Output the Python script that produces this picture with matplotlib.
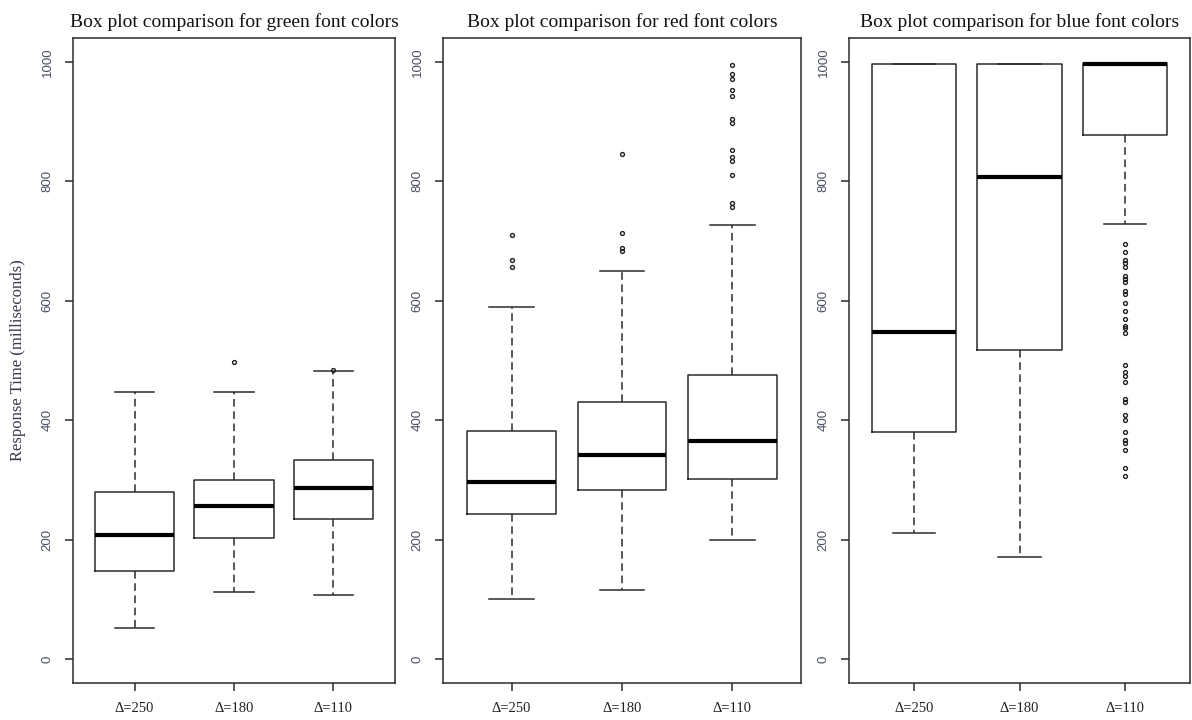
import numpy as np
import matplotlib
matplotlib.use("Agg")
import matplotlib.pyplot as plt

# rotulos do eixo x (os mesmos nos tres paineis)
rotulos = ['Δ=250', 'Δ=180', 'Δ=110']

# painel verde
verde_q1 = [147, 202, 235]
verde_med = [208, 257, 287]
verde_q3 = [280, 300, 333]
verde_wlo = [52, 113, 107]
verde_whi = [448, 447, 482]
verde_out = [[], [497], [484]]

# painel vermelho
vermelho_q1 = [243, 283, 301]
vermelho_med = [297, 342, 366]
vermelho_q3 = [382, 431, 476]
vermelho_wlo = [100, 116, 200]
vermelho_whi = [590, 650, 727]
vermelho_out = [[657, 668, 710],
                [683, 688, 713, 845],
                [757, 763, 810, 834, 840, 852, 898, 905, 943, 953, 972, 980, 995]]

# painel azul
azul_q1 = [381, 518, 877]
azul_med = [548, 808, 996]
azul_q3 = [997, 997, 998]
azul_wlo = [211, 171, 728]
azul_whi = [997, 997, 998]
azul_out = [[], [],
            [306, 320, 350, 362, 367, 381, 400, 408, 431, 435, 464, 474, 481, 493,
             546, 555, 558, 569, 583, 597, 611, 617, 632, 636, 642, 656, 664, 669,
             682, 695]]

titulos = ['Box plot comparison for green font colors',
           'Box plot comparison for red font colors',
           'Box plot comparison for blue font colors']

paineis = [
    (verde_q1, verde_med, verde_q3, verde_wlo, verde_whi, verde_out),
    (vermelho_q1, vermelho_med, vermelho_q3, vermelho_wlo, vermelho_whi, vermelho_out),
    (azul_q1, azul_med, azul_q3, azul_wlo, azul_whi, azul_out),
]

W, H = 1192, 720
# posicoes dos paineis em pixels (esquerda, direita)
caixas_px = [(73, 395), (443, 801), (849, 1190)]
topo, base = 38, 683

cor_linha = '#2b2b2b'
serif = ['Liberation Serif', 'DejaVu Serif']


def monta_stats(q1, med, q3, wlo, whi, out):
    stats = []
    for i in range(len(q1)):
        stats.append(dict(q1=q1[i], med=med[i], q3=q3[i],
                          whislo=wlo[i], whishi=whi[i], fliers=out[i],
                          label=rotulos[i]))
    return stats


fig = plt.figure(figsize=(W / 100, H / 100), dpi=100)

for k, (esq, dir_) in enumerate(caixas_px):
    ax = fig.add_axes([esq / W, 1 - base / H, (dir_ - esq) / W, (base - topo) / H])
    stats = monta_stats(*paineis[k])
    ax.bxp(stats, positions=[1, 2, 3], widths=0.8, showfliers=True,
           boxprops=dict(color=cor_linha, linewidth=1.1),
           medianprops=dict(color='black', linewidth=3.0, solid_capstyle='butt'),
           whiskerprops=dict(color=cor_linha, linewidth=1.1, linestyle=(0, (5, 3))),
           capprops=dict(color=cor_linha, linewidth=1.1),
           capwidths=0.4,
           flierprops=dict(marker='o', markersize=2.8, markerfacecolor='none',
                           markeredgecolor='#222222', markeredgewidth=1.0,
                           linestyle='none'))
    ax.set_xlim(0.38, 3.62)
    ax.set_ylim(-40, 1040)
    ax.set_yticks([0, 200, 400, 600, 800, 1000])
    ax.set_xticks([1, 2, 3])
    ax.set_xticklabels(rotulos, fontsize=10.5, family=serif, color='#222222')
    for lbl in ax.get_yticklabels():
        lbl.set_rotation(90)
        lbl.set_va('center')
        lbl.set_fontsize(9.5)
        lbl.set_family(['Liberation Sans', 'DejaVu Sans'])
        lbl.set_color('#4a5060')
    ax.tick_params(axis='x', length=6, width=1.1, color=cor_linha, pad=8)
    ax.tick_params(axis='y', length=6, width=1.1, color=cor_linha, pad=8)
    for s in ax.spines.values():
        s.set_color(cor_linha)
        s.set_linewidth(1.1)
    ax.set_title(titulos[k], fontsize=14, family=serif, color='#111111', pad=8)

fig.text(18 / W, 1 - 360 / H, 'Response Time (milliseconds)', rotation=90,
         ha='center', va='center', fontsize=12, family=serif, color='#3a3a4a')

plt.savefig('out.png', dpi=100)
